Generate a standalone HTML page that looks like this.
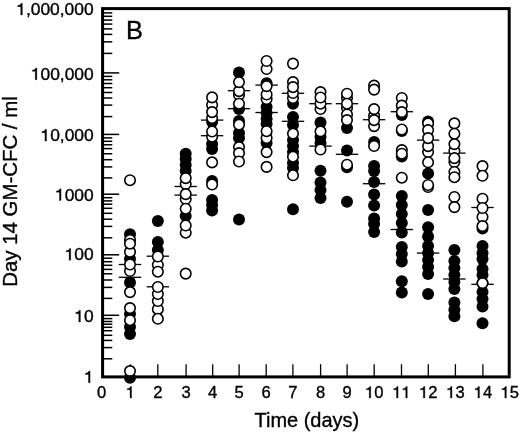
<!DOCTYPE html>
<html><head><meta charset="utf-8"><title>Figure B</title>
<style>html,body{margin:0;padding:0;background:#fff;}body{width:520px;height:434px;overflow:hidden;}svg{display:block;will-change:transform;}text{font-family:"Liberation Sans",sans-serif;fill:#000;stroke:#000;stroke-width:0.35px;}</style>
</head><body>
<svg width="520" height="434" viewBox="0 0 520 434">
<rect x="0" y="0" width="520" height="434" fill="#fff"/>
<g stroke="#000" stroke-width="1.5" fill="none">
<line x1="102.6" y1="12.9" x2="112.3" y2="12.9"/>
<line x1="102.6" y1="16.3" x2="112.3" y2="16.3"/>
<line x1="102.6" y1="20.1" x2="112.3" y2="20.1"/>
<line x1="102.6" y1="24.1" x2="112.3" y2="24.1"/>
<line x1="102.6" y1="28.9" x2="112.3" y2="28.9"/>
<line x1="102.6" y1="34.4" x2="112.3" y2="34.4"/>
<line x1="102.6" y1="41.85" x2="112.3" y2="41.85"/>
<line x1="102.6" y1="53.4" x2="112.3" y2="53.4"/>
<line x1="102.6" y1="76.4" x2="112.3" y2="76.4"/>
<line x1="102.6" y1="79.8" x2="112.3" y2="79.8"/>
<line x1="102.6" y1="83.5" x2="112.3" y2="83.5"/>
<line x1="102.6" y1="87.7" x2="112.3" y2="87.7"/>
<line x1="102.6" y1="92.5" x2="112.3" y2="92.5"/>
<line x1="102.6" y1="98.0" x2="112.3" y2="98.0"/>
<line x1="102.6" y1="105.1" x2="112.3" y2="105.1"/>
<line x1="102.6" y1="116.6" x2="112.3" y2="116.6"/>
<line x1="102.6" y1="137.9" x2="112.3" y2="137.9"/>
<line x1="102.6" y1="141.3" x2="112.3" y2="141.3"/>
<line x1="102.6" y1="144.8" x2="112.3" y2="144.8"/>
<line x1="102.6" y1="148.6" x2="112.3" y2="148.6"/>
<line x1="102.6" y1="153.75" x2="112.3" y2="153.75"/>
<line x1="102.6" y1="159.7" x2="112.3" y2="159.7"/>
<line x1="102.6" y1="166.9" x2="112.3" y2="166.9"/>
<line x1="102.6" y1="177.9" x2="112.3" y2="177.9"/>
<line x1="102.6" y1="197.7" x2="112.3" y2="197.7"/>
<line x1="102.6" y1="200.9" x2="112.3" y2="200.9"/>
<line x1="102.6" y1="204.2" x2="112.3" y2="204.2"/>
<line x1="102.6" y1="208.3" x2="112.3" y2="208.3"/>
<line x1="102.6" y1="213.3" x2="112.3" y2="213.3"/>
<line x1="102.6" y1="219.2" x2="112.3" y2="219.2"/>
<line x1="102.6" y1="226.4" x2="112.3" y2="226.4"/>
<line x1="102.6" y1="237.8" x2="112.3" y2="237.8"/>
<line x1="102.6" y1="258.2" x2="112.3" y2="258.2"/>
<line x1="102.6" y1="261.7" x2="112.3" y2="261.7"/>
<line x1="102.6" y1="265.3" x2="112.3" y2="265.3"/>
<line x1="102.6" y1="269.4" x2="112.3" y2="269.4"/>
<line x1="102.6" y1="273.8" x2="112.3" y2="273.8"/>
<line x1="102.6" y1="280.0" x2="112.3" y2="280.0"/>
<line x1="102.6" y1="287.4" x2="112.3" y2="287.4"/>
<line x1="102.6" y1="298.4" x2="112.3" y2="298.4"/>
<line x1="102.6" y1="318.6" x2="112.3" y2="318.6"/>
<line x1="102.6" y1="321.5" x2="112.3" y2="321.5"/>
<line x1="102.6" y1="324.2" x2="112.3" y2="324.2"/>
<line x1="102.6" y1="327.3" x2="112.3" y2="327.3"/>
<line x1="102.6" y1="330.7" x2="112.3" y2="330.7"/>
<line x1="102.6" y1="335.3" x2="112.3" y2="335.3"/>
<line x1="102.6" y1="340.4" x2="112.3" y2="340.4"/>
<line x1="102.6" y1="347.6" x2="112.3" y2="347.6"/>
<line x1="102.6" y1="358.8" x2="112.3" y2="358.8"/>
<line x1="102.6" y1="72.9" x2="119.2" y2="72.9"/>
<line x1="102.6" y1="134.4" x2="119.2" y2="134.4"/>
<line x1="102.6" y1="194.2" x2="119.2" y2="194.2"/>
<line x1="102.6" y1="254.8" x2="119.2" y2="254.8"/>
<line x1="102.6" y1="315.3" x2="119.2" y2="315.3"/>
</g>
<g stroke="#000" stroke-width="1.3" fill="none">
<line x1="130.4" y1="364.2" x2="130.4" y2="376.9"/>
<line x1="157.8" y1="364.2" x2="157.8" y2="376.9"/>
<line x1="186.1" y1="364.2" x2="186.1" y2="376.9"/>
<line x1="212.7" y1="364.2" x2="212.7" y2="376.9"/>
<line x1="239.1" y1="364.2" x2="239.1" y2="376.9"/>
<line x1="266.2" y1="364.2" x2="266.2" y2="376.9"/>
<line x1="292.9" y1="364.2" x2="292.9" y2="376.9"/>
<line x1="320.6" y1="364.2" x2="320.6" y2="376.9"/>
<line x1="347.1" y1="364.2" x2="347.1" y2="376.9"/>
<line x1="374.2" y1="364.2" x2="374.2" y2="376.9"/>
<line x1="401.5" y1="364.2" x2="401.5" y2="376.9"/>
<line x1="428.3" y1="364.2" x2="428.3" y2="376.9"/>
<line x1="455.4" y1="364.2" x2="455.4" y2="376.9"/>
<line x1="482.9" y1="364.2" x2="482.9" y2="376.9"/>
</g>
<g stroke="#000" stroke-width="1.3" fill="none">
<line x1="118.8" y1="264.5" x2="141.2" y2="264.5"/>
<line x1="118.8" y1="277.3" x2="141.2" y2="277.3"/>
<line x1="146.7" y1="256.2" x2="169.0" y2="256.2"/>
<line x1="146.7" y1="286.8" x2="169.0" y2="286.8"/>
<line x1="174.5" y1="186.5" x2="196.9" y2="186.5"/>
<line x1="174.5" y1="195.1" x2="196.9" y2="195.1"/>
<line x1="200.9" y1="120.1" x2="223.3" y2="120.1"/>
<line x1="200.9" y1="135.7" x2="223.3" y2="135.7"/>
<line x1="227.8" y1="90.7" x2="250.2" y2="90.7"/>
<line x1="227.8" y1="108.7" x2="250.2" y2="108.7"/>
<line x1="255.4" y1="85.1" x2="277.8" y2="85.1"/>
<line x1="255.4" y1="112.5" x2="277.8" y2="112.5"/>
<line x1="281.8" y1="93.3" x2="304.2" y2="93.3"/>
<line x1="281.8" y1="121.3" x2="304.2" y2="121.3"/>
<line x1="309.3" y1="103.7" x2="331.7" y2="103.7"/>
<line x1="309.3" y1="146.1" x2="331.7" y2="146.1"/>
<line x1="335.8" y1="103.7" x2="358.2" y2="103.7"/>
<line x1="335.8" y1="154.3" x2="358.2" y2="154.3"/>
<line x1="362.9" y1="119.7" x2="385.3" y2="119.7"/>
<line x1="362.9" y1="183.7" x2="385.3" y2="183.7"/>
<line x1="390.6" y1="111.7" x2="413.0" y2="111.7"/>
<line x1="390.6" y1="229.5" x2="413.0" y2="229.5"/>
<line x1="416.9" y1="140.1" x2="439.3" y2="140.1"/>
<line x1="416.9" y1="253.1" x2="439.3" y2="253.1"/>
<line x1="443.2" y1="153.1" x2="465.6" y2="153.1"/>
<line x1="443.2" y1="279.0" x2="465.6" y2="279.0"/>
<line x1="471.3" y1="207.5" x2="493.7" y2="207.5"/>
<line x1="471.3" y1="284.3" x2="493.7" y2="284.3"/>
</g>
<g fill="#000">
<circle cx="130.0" cy="234.2" r="6.0"/>
<circle cx="130.0" cy="259" r="6.0"/>
<circle cx="130.0" cy="282.5" r="6.0"/>
<circle cx="130.0" cy="314" r="6.0"/>
<circle cx="130.0" cy="327" r="6.0"/>
<circle cx="130.0" cy="334.1" r="6.0"/>
<circle cx="130.0" cy="377.8" r="6.0"/>
</g>
<g fill="#fff" stroke="#000" stroke-width="1.6">
<circle cx="130.0" cy="240.0" r="5.25"/>
<circle cx="130.0" cy="251.9" r="5.25"/>
<circle cx="130.0" cy="243.7" r="5.25"/>
<circle cx="130.0" cy="271" r="5.25"/>
<circle cx="130.0" cy="264.5" r="5.25"/>
<circle cx="130.0" cy="292.1" r="5.25"/>
<circle cx="130.0" cy="308.1" r="5.25"/>
<circle cx="130.0" cy="320.2" r="5.25"/>
<circle cx="130.0" cy="371.1" r="5.25"/>
<circle cx="130.0" cy="180.2" r="5.25"/>
</g>
<g fill="#000">
<circle cx="157.85" cy="221.1" r="6.0"/>
<circle cx="157.85" cy="241.9" r="6.0"/>
<circle cx="157.85" cy="250" r="6.0"/>
</g>
<g fill="#fff" stroke="#000" stroke-width="1.6">
<circle cx="157.85" cy="265" r="5.25"/>
<circle cx="157.85" cy="271.7" r="5.25"/>
<circle cx="157.85" cy="256.5" r="5.25"/>
<circle cx="157.85" cy="309.2" r="5.25"/>
<circle cx="157.85" cy="301" r="5.25"/>
<circle cx="157.85" cy="294" r="5.25"/>
<circle cx="157.85" cy="287" r="5.25"/>
<circle cx="157.85" cy="318.8" r="5.25"/>
</g>
<g fill="#000">
<circle cx="185.7" cy="153.7" r="6.0"/>
<circle cx="185.7" cy="159" r="6.0"/>
<circle cx="185.7" cy="165" r="6.0"/>
<circle cx="185.7" cy="171" r="6.0"/>
<circle cx="185.7" cy="216" r="6.0"/>
</g>
<g fill="#fff" stroke="#000" stroke-width="1.6">
<circle cx="185.7" cy="184" r="5.25"/>
<circle cx="185.7" cy="178.1" r="5.25"/>
<circle cx="185.7" cy="199" r="5.25"/>
<circle cx="185.7" cy="194.1" r="5.25"/>
<circle cx="185.7" cy="208.7" r="5.25"/>
<circle cx="185.7" cy="232.7" r="5.25"/>
<circle cx="185.7" cy="225.5" r="5.25"/>
<circle cx="185.7" cy="273.6" r="5.25"/>
</g>
<g fill="#000">
<circle cx="212.1" cy="122" r="6.0"/>
<circle cx="212.1" cy="144.1" r="6.0"/>
<circle cx="212.1" cy="149.1" r="6.0"/>
<circle cx="212.1" cy="181" r="6.0"/>
<circle cx="212.1" cy="200" r="6.0"/>
<circle cx="212.1" cy="205" r="6.0"/>
<circle cx="212.1" cy="210.6" r="6.0"/>
</g>
<g fill="#fff" stroke="#000" stroke-width="1.6">
<circle cx="212.1" cy="105" r="5.25"/>
<circle cx="212.1" cy="97.4" r="5.25"/>
<circle cx="212.1" cy="118" r="5.25"/>
<circle cx="212.1" cy="112.1" r="5.25"/>
<circle cx="212.1" cy="136.7" r="5.25"/>
<circle cx="212.1" cy="131.5" r="5.25"/>
<circle cx="212.1" cy="162.4" r="5.25"/>
<circle cx="212.1" cy="184.5" r="5.25"/>
</g>
<g fill="#000">
<circle cx="239.0" cy="72.4" r="6.0"/>
<circle cx="239.0" cy="109" r="6.0"/>
<circle cx="239.0" cy="121" r="6.0"/>
<circle cx="239.0" cy="133" r="6.0"/>
<circle cx="239.0" cy="138" r="6.0"/>
<circle cx="239.0" cy="219.5" r="6.0"/>
</g>
<g fill="#fff" stroke="#000" stroke-width="1.6">
<circle cx="239.0" cy="95" r="5.25"/>
<circle cx="239.0" cy="91.1" r="5.25"/>
<circle cx="239.0" cy="82.1" r="5.25"/>
<circle cx="239.0" cy="103.7" r="5.25"/>
<circle cx="239.0" cy="124.6" r="5.25"/>
<circle cx="239.0" cy="147.1" r="5.25"/>
<circle cx="239.0" cy="153.1" r="5.25"/>
<circle cx="239.0" cy="161.5" r="5.25"/>
</g>
<g fill="#000">
<circle cx="266.6" cy="83.2" r="6.0"/>
<circle cx="266.6" cy="107" r="6.0"/>
<circle cx="266.6" cy="113" r="6.0"/>
<circle cx="266.6" cy="119" r="6.0"/>
<circle cx="266.6" cy="124" r="6.0"/>
<circle cx="266.6" cy="143" r="6.0"/>
</g>
<g fill="#fff" stroke="#000" stroke-width="1.6">
<circle cx="266.6" cy="69" r="5.25"/>
<circle cx="266.6" cy="61" r="5.25"/>
<circle cx="266.6" cy="99" r="5.25"/>
<circle cx="266.6" cy="94.5" r="5.25"/>
<circle cx="266.6" cy="86.1" r="5.25"/>
<circle cx="266.6" cy="138" r="5.25"/>
<circle cx="266.6" cy="131.2" r="5.25"/>
<circle cx="266.6" cy="152.1" r="5.25"/>
<circle cx="266.6" cy="166.9" r="5.25"/>
</g>
<g fill="#000">
<circle cx="293.0" cy="103.7" r="6.0"/>
<circle cx="293.0" cy="117.1" r="6.0"/>
<circle cx="293.0" cy="125" r="6.0"/>
<circle cx="293.0" cy="140" r="6.0"/>
<circle cx="293.0" cy="146" r="6.0"/>
<circle cx="293.0" cy="152" r="6.0"/>
<circle cx="293.0" cy="163" r="6.0"/>
<circle cx="293.0" cy="168" r="6.0"/>
<circle cx="293.0" cy="209.2" r="6.0"/>
</g>
<g fill="#fff" stroke="#000" stroke-width="1.6">
<circle cx="293.0" cy="63.6" r="5.25"/>
<circle cx="293.0" cy="98" r="5.25"/>
<circle cx="293.0" cy="93" r="5.25"/>
<circle cx="293.0" cy="82.1" r="5.25"/>
<circle cx="293.0" cy="87.1" r="5.25"/>
<circle cx="293.0" cy="133.6" r="5.25"/>
<circle cx="293.0" cy="156.7" r="5.25"/>
<circle cx="293.0" cy="175.3" r="5.25"/>
</g>
<g fill="#000">
<circle cx="320.5" cy="122.5" r="6.0"/>
<circle cx="320.5" cy="137" r="6.0"/>
<circle cx="320.5" cy="143" r="6.0"/>
<circle cx="320.5" cy="170.8" r="6.0"/>
<circle cx="320.5" cy="182.5" r="6.0"/>
<circle cx="320.5" cy="190" r="6.0"/>
<circle cx="320.5" cy="198" r="6.0"/>
</g>
<g fill="#fff" stroke="#000" stroke-width="1.6">
<circle cx="320.5" cy="109" r="5.25"/>
<circle cx="320.5" cy="103.7" r="5.25"/>
<circle cx="320.5" cy="92.1" r="5.25"/>
<circle cx="320.5" cy="97.5" r="5.25"/>
<circle cx="320.5" cy="131.4" r="5.25"/>
<circle cx="320.5" cy="149.5" r="5.25"/>
</g>
<g fill="#000">
<circle cx="347.0" cy="128.1" r="6.0"/>
<circle cx="347.0" cy="150.5" r="6.0"/>
<circle cx="347.0" cy="167.3" r="6.0"/>
<circle cx="347.0" cy="201.7" r="6.0"/>
</g>
<g fill="#fff" stroke="#000" stroke-width="1.6">
<circle cx="347.0" cy="98" r="5.25"/>
<circle cx="347.0" cy="93.7" r="5.25"/>
<circle cx="347.0" cy="108" r="5.25"/>
<circle cx="347.0" cy="114.5" r="5.25"/>
<circle cx="347.0" cy="103.7" r="5.25"/>
<circle cx="347.0" cy="120.1" r="5.25"/>
<circle cx="347.0" cy="164.7" r="5.25"/>
</g>
<g fill="#000">
<circle cx="374.1" cy="142" r="6.0"/>
<circle cx="374.1" cy="166" r="6.0"/>
<circle cx="374.1" cy="171" r="6.0"/>
<circle cx="374.1" cy="182.1" r="6.0"/>
<circle cx="374.1" cy="194.5" r="6.0"/>
<circle cx="374.1" cy="205.4" r="6.0"/>
<circle cx="374.1" cy="218.6" r="6.0"/>
<circle cx="374.1" cy="224" r="6.0"/>
<circle cx="374.1" cy="232" r="6.0"/>
</g>
<g fill="#fff" stroke="#000" stroke-width="1.6">
<circle cx="374.1" cy="85.6" r="5.25"/>
<circle cx="374.1" cy="89.6" r="5.25"/>
<circle cx="374.1" cy="115.7" r="5.25"/>
<circle cx="374.1" cy="109.1" r="5.25"/>
<circle cx="374.1" cy="126.1" r="5.25"/>
<circle cx="374.1" cy="120.1" r="5.25"/>
<circle cx="374.1" cy="146" r="5.25"/>
</g>
<g fill="#000">
<circle cx="401.8" cy="115" r="6.0"/>
<circle cx="401.8" cy="131" r="6.0"/>
<circle cx="401.8" cy="156.5" r="6.0"/>
<circle cx="401.8" cy="196" r="6.0"/>
<circle cx="401.8" cy="205" r="6.0"/>
<circle cx="401.8" cy="214" r="6.0"/>
<circle cx="401.8" cy="223" r="6.0"/>
<circle cx="401.8" cy="232.5" r="6.0"/>
<circle cx="401.8" cy="247" r="6.0"/>
<circle cx="401.8" cy="254" r="6.0"/>
<circle cx="401.8" cy="261.5" r="6.0"/>
<circle cx="401.8" cy="281.2" r="6.0"/>
<circle cx="401.8" cy="292.4" r="6.0"/>
</g>
<g fill="#fff" stroke="#000" stroke-width="1.6">
<circle cx="401.8" cy="98" r="5.25"/>
<circle cx="401.8" cy="105.6" r="5.25"/>
<circle cx="401.8" cy="112.1" r="5.25"/>
<circle cx="401.8" cy="129.5" r="5.25"/>
<circle cx="401.8" cy="150.1" r="5.25"/>
<circle cx="401.8" cy="153.7" r="5.25"/>
<circle cx="401.8" cy="177.7" r="5.25"/>
</g>
<g fill="#000">
<circle cx="428.1" cy="121.5" r="6.0"/>
<circle cx="428.1" cy="173.5" r="6.0"/>
<circle cx="428.1" cy="210.1" r="6.0"/>
<circle cx="428.1" cy="227.2" r="6.0"/>
<circle cx="428.1" cy="236.5" r="6.0"/>
<circle cx="428.1" cy="246" r="6.0"/>
<circle cx="428.1" cy="253" r="6.0"/>
<circle cx="428.1" cy="260" r="6.0"/>
<circle cx="428.1" cy="267" r="6.0"/>
<circle cx="428.1" cy="274" r="6.0"/>
<circle cx="428.1" cy="294" r="6.0"/>
</g>
<g fill="#fff" stroke="#000" stroke-width="1.6">
<circle cx="428.1" cy="123.5" r="5.25"/>
<circle cx="428.1" cy="152" r="5.25"/>
<circle cx="428.1" cy="146.1" r="5.25"/>
<circle cx="428.1" cy="130.1" r="5.25"/>
<circle cx="428.1" cy="138.1" r="5.25"/>
<circle cx="428.1" cy="162.3" r="5.25"/>
<circle cx="428.1" cy="187" r="5.25"/>
<circle cx="428.1" cy="185" r="5.25"/>
</g>
<g fill="#000">
<circle cx="454.4" cy="250" r="6.0"/>
<circle cx="454.4" cy="261" r="6.0"/>
<circle cx="454.4" cy="268" r="6.0"/>
<circle cx="454.4" cy="275" r="6.0"/>
<circle cx="454.4" cy="282" r="6.0"/>
<circle cx="454.4" cy="289" r="6.0"/>
<circle cx="454.4" cy="302.4" r="6.0"/>
<circle cx="454.4" cy="309.7" r="6.0"/>
<circle cx="454.4" cy="316.3" r="6.0"/>
</g>
<g fill="#fff" stroke="#000" stroke-width="1.6">
<circle cx="454.4" cy="123.4" r="5.25"/>
<circle cx="454.4" cy="133.7" r="5.25"/>
<circle cx="454.4" cy="151" r="5.25"/>
<circle cx="454.4" cy="144.1" r="5.25"/>
<circle cx="454.4" cy="162" r="5.25"/>
<circle cx="454.4" cy="158.1" r="5.25"/>
<circle cx="454.4" cy="172" r="5.25"/>
<circle cx="454.4" cy="177.2" r="5.25"/>
<circle cx="454.4" cy="197" r="5.25"/>
<circle cx="454.4" cy="207.1" r="5.25"/>
</g>
<g fill="#000">
<circle cx="482.5" cy="228.5" r="6.0"/>
<circle cx="482.5" cy="246" r="6.0"/>
<circle cx="482.5" cy="253" r="6.0"/>
<circle cx="482.5" cy="259" r="6.0"/>
<circle cx="482.5" cy="269" r="6.0"/>
<circle cx="482.5" cy="275" r="6.0"/>
<circle cx="482.5" cy="283" r="6.0"/>
<circle cx="482.5" cy="292" r="6.0"/>
<circle cx="482.5" cy="299" r="6.0"/>
<circle cx="482.5" cy="306.5" r="6.0"/>
<circle cx="482.5" cy="323.3" r="6.0"/>
</g>
<g fill="#fff" stroke="#000" stroke-width="1.6">
<circle cx="482.5" cy="166.1" r="5.25"/>
<circle cx="482.5" cy="175.8" r="5.25"/>
<circle cx="482.5" cy="198.7" r="5.25"/>
<circle cx="482.5" cy="217" r="5.25"/>
<circle cx="482.5" cy="208" r="5.25"/>
<circle cx="482.5" cy="226.1" r="5.25"/>
<circle cx="482.5" cy="283.1" r="5.25"/>
</g>
<rect x="102.6" y="8.6" width="406.6" height="368.3" fill="none" stroke="#000" stroke-width="3.0"/>
<path d="M0.255,0 L0.349,0 L0.349,0.716 L0.287,0.716 C0.262,0.64 0.19,0.588 0.082,0.576 L0.082,0.506 L0.255,0.506 Z" transform="translate(16.27,15.0) scale(17.407,-16.5)" fill="#000" stroke="#000" stroke-width="0.3" vector-effect="non-scaling-stroke"/>
<text transform="translate(25.95,15.0) scale(1.055,1)" font-size="16.5">,000,000</text>
<path d="M0.255,0 L0.349,0 L0.349,0.716 L0.287,0.716 C0.262,0.64 0.19,0.588 0.082,0.576 L0.082,0.506 L0.255,0.506 Z" transform="translate(30.79,79.7) scale(17.407,-16.5)" fill="#000" stroke="#000" stroke-width="0.3" vector-effect="non-scaling-stroke"/>
<text transform="translate(40.47,79.7) scale(1.055,1)" font-size="16.5">00,000</text>
<path d="M0.255,0 L0.349,0 L0.349,0.716 L0.287,0.716 C0.262,0.64 0.19,0.588 0.082,0.576 L0.082,0.506 L0.255,0.506 Z" transform="translate(40.47,141.1) scale(17.407,-16.5)" fill="#000" stroke="#000" stroke-width="0.3" vector-effect="non-scaling-stroke"/>
<text transform="translate(50.15,141.1) scale(1.055,1)" font-size="16.5">0,000</text>
<path d="M0.255,0 L0.349,0 L0.349,0.716 L0.287,0.716 C0.262,0.64 0.19,0.588 0.082,0.576 L0.082,0.506 L0.255,0.506 Z" transform="translate(54.99,200.6) scale(17.407,-16.5)" fill="#000" stroke="#000" stroke-width="0.3" vector-effect="non-scaling-stroke"/>
<text transform="translate(64.66,200.6) scale(1.055,1)" font-size="16.5">000</text>
<path d="M0.255,0 L0.349,0 L0.349,0.716 L0.287,0.716 C0.262,0.64 0.19,0.588 0.082,0.576 L0.082,0.506 L0.255,0.506 Z" transform="translate(64.66,260.2) scale(17.407,-16.5)" fill="#000" stroke="#000" stroke-width="0.3" vector-effect="non-scaling-stroke"/>
<text transform="translate(74.34,260.2) scale(1.055,1)" font-size="16.5">00</text>
<path d="M0.255,0 L0.349,0 L0.349,0.716 L0.287,0.716 C0.262,0.64 0.19,0.588 0.082,0.576 L0.082,0.506 L0.255,0.506 Z" transform="translate(74.34,322.0) scale(17.407,-16.5)" fill="#000" stroke="#000" stroke-width="0.3" vector-effect="non-scaling-stroke"/>
<text transform="translate(84.02,322.0) scale(1.055,1)" font-size="16.5">0</text>
<path d="M0.255,0 L0.349,0 L0.349,0.716 L0.287,0.716 C0.262,0.64 0.19,0.588 0.082,0.576 L0.082,0.506 L0.255,0.506 Z" transform="translate(84.02,382.8) scale(17.407,-16.5)" fill="#000" stroke="#000" stroke-width="0.3" vector-effect="non-scaling-stroke"/>
<text transform="translate(96.99,398.0) scale(1.03,1)" font-size="16.1">0</text>
<path d="M0.255,0 L0.349,0 L0.349,0.716 L0.287,0.716 C0.262,0.64 0.19,0.588 0.082,0.576 L0.082,0.506 L0.255,0.506 Z" transform="translate(125.79,398.0) scale(16.583,-16.1)" fill="#000" stroke="#000" stroke-width="0.3" vector-effect="non-scaling-stroke"/>
<text transform="translate(153.19,398.0) scale(1.03,1)" font-size="16.1">2</text>
<text transform="translate(181.49,398.0) scale(1.03,1)" font-size="16.1">3</text>
<text transform="translate(208.09,398.0) scale(1.03,1)" font-size="16.1">4</text>
<text transform="translate(234.49,398.0) scale(1.03,1)" font-size="16.1">5</text>
<text transform="translate(261.59,398.0) scale(1.03,1)" font-size="16.1">6</text>
<text transform="translate(288.29,398.0) scale(1.03,1)" font-size="16.1">7</text>
<text transform="translate(315.99,398.0) scale(1.03,1)" font-size="16.1">8</text>
<text transform="translate(342.49,398.0) scale(1.03,1)" font-size="16.1">9</text>
<path d="M0.255,0 L0.349,0 L0.349,0.716 L0.287,0.716 C0.262,0.64 0.19,0.588 0.082,0.576 L0.082,0.506 L0.255,0.506 Z" transform="translate(364.98,398.0) scale(16.583,-16.1)" fill="#000" stroke="#000" stroke-width="0.3" vector-effect="non-scaling-stroke"/>
<text transform="translate(374.20,398.0) scale(1.03,1)" font-size="16.1">0</text>
<path d="M0.255,0 L0.349,0 L0.349,0.716 L0.287,0.716 C0.262,0.64 0.19,0.588 0.082,0.576 L0.082,0.506 L0.255,0.506 Z" transform="translate(392.28,398.0) scale(16.583,-16.1)" fill="#000" stroke="#000" stroke-width="0.3" vector-effect="non-scaling-stroke"/>
<path d="M0.255,0 L0.349,0 L0.349,0.716 L0.287,0.716 C0.262,0.64 0.19,0.588 0.082,0.576 L0.082,0.506 L0.255,0.506 Z" transform="translate(401.50,398.0) scale(16.583,-16.1)" fill="#000" stroke="#000" stroke-width="0.3" vector-effect="non-scaling-stroke"/>
<path d="M0.255,0 L0.349,0 L0.349,0.716 L0.287,0.716 C0.262,0.64 0.19,0.588 0.082,0.576 L0.082,0.506 L0.255,0.506 Z" transform="translate(419.08,398.0) scale(16.583,-16.1)" fill="#000" stroke="#000" stroke-width="0.3" vector-effect="non-scaling-stroke"/>
<text transform="translate(428.30,398.0) scale(1.03,1)" font-size="16.1">2</text>
<path d="M0.255,0 L0.349,0 L0.349,0.716 L0.287,0.716 C0.262,0.64 0.19,0.588 0.082,0.576 L0.082,0.506 L0.255,0.506 Z" transform="translate(446.18,398.0) scale(16.583,-16.1)" fill="#000" stroke="#000" stroke-width="0.3" vector-effect="non-scaling-stroke"/>
<text transform="translate(455.40,398.0) scale(1.03,1)" font-size="16.1">3</text>
<path d="M0.255,0 L0.349,0 L0.349,0.716 L0.287,0.716 C0.262,0.64 0.19,0.588 0.082,0.576 L0.082,0.506 L0.255,0.506 Z" transform="translate(473.68,398.0) scale(16.583,-16.1)" fill="#000" stroke="#000" stroke-width="0.3" vector-effect="non-scaling-stroke"/>
<text transform="translate(482.90,398.0) scale(1.03,1)" font-size="16.1">4</text>
<path d="M0.255,0 L0.349,0 L0.349,0.716 L0.287,0.716 C0.262,0.64 0.19,0.588 0.082,0.576 L0.082,0.506 L0.255,0.506 Z" transform="translate(500.58,398.0) scale(16.583,-16.1)" fill="#000" stroke="#000" stroke-width="0.3" vector-effect="non-scaling-stroke"/>
<text transform="translate(509.80,398.0) scale(1.03,1)" font-size="16.1">5</text>
<text transform="translate(254.5,427.0) scale(1.01,1)" font-size="19.8">Time (days)</text>
<text transform="translate(16.8,286.8) rotate(-90) scale(1.021,1)" font-size="20">Day 14 GM-CFC / ml</text>
<text x="126.0" y="38.7" font-size="25.4">B</text>
</svg></body></html>
